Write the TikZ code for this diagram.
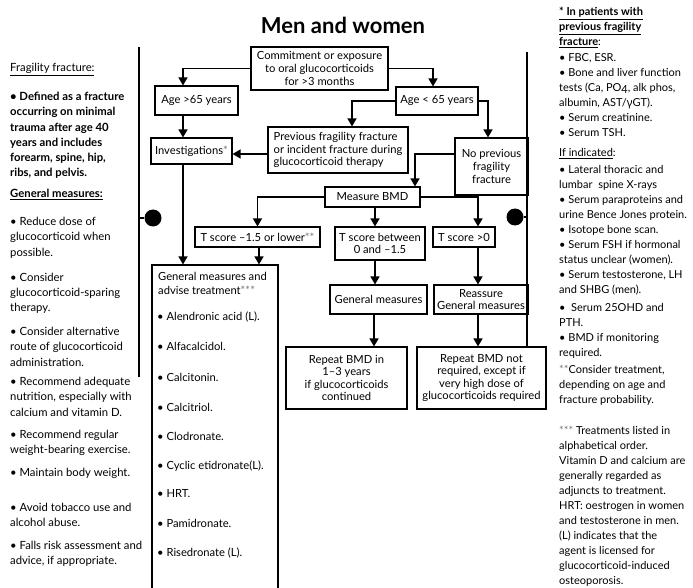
\documentclass[tikz,border=0pt]{standalone}
\usepackage{fontspec}
\setmainfont{Lato}
\newfontfamily\gkfont{Noto Sans}
\usetikzlibrary{arrows.meta}
\newcommand{\boxfnt}{\fontsize{11.2}{12.6}\selectfont}
\newcommand{\sidefnt}{\fontsize{11.3}{15.3}\selectfont}
\newcommand{\rightfnt}{\fontsize{11}{15}\selectfont}
\newcommand{\pbx}[1]{\parbox[t]{160pt}{\raggedright #1}}
\newcommand{\gst}[1]{\textcolor{black!55}{#1}}
\begin{document}
\begin{tikzpicture}[x=1pt,y=-1pt,
  box/.style={draw, line width=1.1pt, inner sep=1pt, align=center, font=\boxfnt},
  arr/.style={line width=1.4pt, -{Triangle[length=8pt,width=9pt]}},
  ln/.style={line width=1.3pt},
  side/.style={anchor=base west, inner sep=0pt, font=\sidefnt},
  rside/.style={anchor=base west, inner sep=0pt, font=\rightfnt},
  item/.style={anchor=base west, inner sep=0pt, font=\boxfnt},
  dot/.style={circle, fill=black, inner sep=0pt, minimum size=17pt}]
\useasboundingbox (0,0) rectangle (693,588);

% title
\node[font=\bfseries\fontsize{22}{26}\selectfont] (title) at (343,25) {Men and women};

% flowchart boxes
\node[box, minimum width=137pt, minimum height=43pt] (commit) at (319.5,68.5)
  {Commitment or exposure\\to oral glucocorticoids\\for >3 months};
\node[box, minimum width=83pt, minimum height=29pt] (age65) at (196.5,100.5) {Age >65 years};
\node[box, minimum width=82pt, minimum height=28pt] (ageLt) at (437,101) {Age < 65 years};
\node[box, align=left, minimum width=140pt, minimum height=46pt] (prev) at (338,150)
  {Previous fragility fracture\\or incident fracture during\\glucocorticoid therapy};
\node[box, minimum width=81pt, minimum height=26pt] (invest) at (191.5,151) {Investigations\gst{*}};
\node[box, minimum width=73pt, minimum height=57pt] (noprev) at (491.5,166.5)
  {No previous\\fragility\\fracture};
\node[box, minimum width=95pt, minimum height=20pt] (bmd) at (372.5,197) {Measure BMD};
\node[box, minimum width=125pt, minimum height=20pt] (t15) at (257.5,237) {T score --1.5 or lower\gst{**}};
\node[box, minimum width=90pt, minimum height=33pt] (tbetw) at (380,243.5) {T score between\\0 and --1.5};
\node[box, minimum width=62pt, minimum height=20pt] (t0) at (464,237) {T score >0};
\node[box, minimum width=126pt, minimum height=330pt] (gm) at (215,430) {};
\node[box, minimum width=97pt, minimum height=29pt] (gm2) at (378.5,299.5) {General measures};
\node[box, minimum width=94pt, minimum height=29pt] (reassure) at (481,299.5) {Reassure\\General measures};
\node[box, minimum width=121pt, minimum height=62pt] (rep1) at (346.5,378)
  {Repeat BMD in\\1--3 years\\if glucocorticoids\\continued};
\node[box, minimum width=129pt, minimum height=62pt] (rep2) at (481.5,378)
  {Repeat BMD not\\required, except if\\very high dose of\\glucocorticoids required};

% text in the big box
\node[item] (gmh) at (158,280.5) {\parbox[t]{120pt}{\raggedright\baselineskip=13.5pt General measures and\\advise treatment\gst{***}}};
\node[item] (i1) at (157,320) {• Alendronic acid (L).};
\node[item] (i2) at (157,350) {• Alfacalcidol.};
\node[item] (i3) at (157,381) {• Calcitonin.};
\node[item] (i4) at (157,411) {• Calcitriol.};
\node[item] (i5) at (157,440) {• Clodronate.};
\node[item] (i6) at (157,469) {• Cyclic etidronate(L).};
\node[item] (i7) at (157,497) {• HRT.};
\node[item] (i8) at (157,527) {• Pamidronate.};
\node[item] (i9) at (157,556) {• Risedronate (L).};

% connectors
\draw[arr] (commit.west) -| ([xshift=-13.5pt]age65.north);
\draw[arr] (commit.east) -| ([xshift=-4pt]ageLt.north);
\draw[arr] (ageLt.west) -| ([xshift=14pt]prev.north);
\draw[arr] (ageLt.east) -| ([xshift=-3.5pt]noprev.north);
\draw[arr] ([yshift=-4pt]prev.west) -- ([yshift=-4pt]prev.west -| invest.east);
\draw[arr] ([xshift=-13.5pt]age65.south) -- ([xshift=-13.5pt]age65.south |- invest.north);
\draw[arr] ([xshift=-8.5pt]invest.south) -- ([xshift=-8.5pt]invest.south |- gm.north);
\draw[arr] ([yshift=12.5pt]noprev.west) -| ([xshift=42.5pt]bmd.north);
\draw[arr] (bmd.west) -| (t15.north);
\draw[arr] ([xshift=2.5pt]bmd.south) -- ([xshift=2.5pt]bmd.south |- tbetw.north);
\draw[arr] (bmd.east) -| ([xshift=14pt]t0.north);
\draw[arr] ([xshift=1.5pt]t15.south) -- ([xshift=1.5pt]t15.south |- gm.north);
\draw[arr] ([xshift=-5pt]tbetw.south) -- ([xshift=-5pt]tbetw.south |- gm2.north);
\draw[arr] ([xshift=14pt]t0.south) -- ([xshift=14pt]t0.south |- reassure.north);
\draw[arr] ([xshift=-4.5pt]gm2.south) -- ([xshift=-4.5pt]gm2.south |- rep1.north);
\draw[arr] ([xshift=-3pt]reassure.south) -- ([xshift=-3pt]reassure.south |- rep2.north);

% side rules and dots
\coordinate (ltop) at (139,47);
\coordinate (lbot) at (139,377);
\coordinate (rtop) at (527,52);
\draw[ln] (ltop) -- (lbot);
\draw[ln] (rtop) -- (rtop |- rep2.north);
\node[dot] (ldot) at (153,218) {};
\node[dot] (rdot) at (515,217) {};
\draw[ln] (ldot) -- (ldot -| ltop);
\draw[ln] (rdot) -- (rdot -| rtop);

% left column
\node[side] (l1) at (10,71.5) {\pbx{\underline{Fragility fracture:}}};
\node[side] (l2) at (10,100.5) {\pbx{\bfseries • Defined as a fracture\\occurring on minimal\\trauma after age 40\\years and includes\\forearm, spine, hip,\\ribs, and pelvis.}};
\node[side] (l3) at (10,197.5) {\pbx{\bfseries\underline{General measures:}}};
\node[side] (l4) at (10,225.5) {\pbx{• Reduce dose of\\glucocorticoid when\\possible.}};
\node[side] (l5) at (10,281) {\pbx{• Consider\\glucocorticoid-sparing\\therapy.}};
\node[side] (l6) at (10,335.5) {\pbx{• Consider alternative\\route of glucocorticoid\\administration.}};
\node[side] (l7) at (10,385.5) {\pbx{• Recommend adequate\\nutrition, especially with\\calcium and vitamin D.}};
\node[side] (l8) at (10,438.5) {\pbx{• Recommend regular\\weight-bearing exercise.}};
\node[side] (l9) at (10,476.5) {\pbx{• Maintain body weight.}};
\node[side] (l10) at (10,511.5) {\pbx{• Avoid tobacco use and\\alcohol abuse.}};
\node[side] (l11) at (10,549.5) {\pbx{• Falls risk assessment and\\advice, if appropriate.}};

% right column
\node[rside] (r1) at (559,15.5) {\pbx{\bfseries\underline{* In patients with}\\\underline{previous fragility}\\\underline{fracture}\mdseries:}};
\node[rside] (r2) at (559,61.5) {\pbx{• FBC, ESR.\\• Bone and liver function\\tests (Ca, PO\raisebox{-2pt}{4}, alk phos,\\albumin, AST/{\gkfont γ}GT).\\• Serum creatinine.\\• Serum TSH.}};
\node[rside] (r3) at (559,156.5) {\pbx{\underline{If indicated}:}};
\node[rside] (r4) at (559,173.5) {\pbx{• Lateral thoracic and\\lumbar\ \ spine X-rays\\• Serum paraproteins and\\urine Bence Jones protein.\\• Isotope bone scan.\\• Serum FSH if hormonal\\status unclear (women).\\• Serum testosterone, LH\\and SHBG (men).}};
\node[rside] (r5) at (559,311.5) {\pbx{•\ \ Serum 25OHD and\\PTH.}};
\node[rside] (r6) at (559,341.5) {\pbx{• BMD if monitoring\\required.}};
\node[rside] (r7) at (559,373.5) {\pbx{\gst{**}Consider treatment,\\depending on age and\\fracture probability.}};
\node[rside] (r8) at (559,434.5) {\pbx{\gst{***} Treatments listed in\\alphabetical order.\\Vitamin D and calcium are\\generally regarded as\\adjuncts to treatment.\\HRT: oestrogen in women\\and testosterone in men.\\(L) indicates that the\\agent is licensed for\\glucocorticoid-induced\\osteoporosis.}};
\end{tikzpicture}
\end{document}
